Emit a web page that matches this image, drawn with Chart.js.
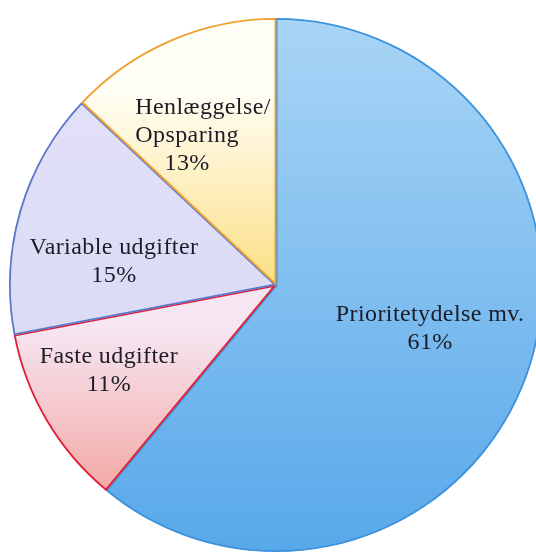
<!DOCTYPE html>
<html>
<head>
<meta charset="utf-8">
<script src="https://cdn.jsdelivr.net/npm/chart.js@4"></script>
<style>
html,body{margin:0;padding:0;background:#fff;overflow:hidden;}
#wrap{width:536px;height:553px;position:relative;overflow:hidden;}
</style>
</head>
<body>
<div id="wrap"><canvas id="c" width="544" height="553"></canvas></div>
<script>
const categories = ["Prioritetydelse mv.", "Faste udgifter", "Variable udgifter", "Henlæggelse/\nOpsparing"];
const values = [61, 11, 15, 13];
const percentLabels = ["61%", "11%", "15%", "13%"];

// styling (not data)
const gradStops = [
  ["#a9d5f6", "#58a8ea"],
  ["#f6e6f2", "#f2a29c"],
  ["#e4e2f8", "#d4d6f4"],
  ["#fffff8", "#fbdf85"]
];
const borderCols = ["#3f93dc", "#e0203a", "#5a78c8", "#f0a030"];
const labelRadial = [0.60, 0.703, 0.613, 0.621];
const labelAngleShift = [-4, 3.5, -8.1, -2.7]; // degrees

function bg(ctx) {
  const chart = ctx.chart;
  const a = chart.chartArea;
  const s = gradStops[ctx.dataIndex];
  if (!a) return s[1];
  const c = chart.ctx;
  let g;
  if (ctx.dataIndex === 3) {
    g = c.createLinearGradient(0, a.top, 0, a.top + a.height / 2);
    g.addColorStop(0, s[0]); g.addColorStop(0.25, s[0]); g.addColorStop(1, s[1]);
    return g;
  }
  if (ctx.dataIndex === 1) {
    g = c.createLinearGradient(0, a.top + a.height * 0.58, 0, a.top + a.height * 0.92);
    g.addColorStop(0, s[0]); g.addColorStop(1, s[1]);
    return g;
  }
  g = c.createLinearGradient(0, a.top, 0, a.bottom);
  g.addColorStop(0, s[0]); g.addColorStop(1, s[1]);
  return g;
}

const labelPlugin = {
  id: 'sliceLabels',
  afterDatasetsDraw(chart) {
    const meta = chart.getDatasetMeta(0);
    const ctx = chart.ctx;
    ctx.save();
    ctx.fillStyle = "#1c1c28";
    ctx.font = "24px 'Liberation Serif', 'Times New Roman', serif";
    try { ctx.letterSpacing = "0.4px"; } catch (e) {}
    ctx.textAlign = "center";
    ctx.textBaseline = "middle";
    meta.data.forEach((arc, i) => {
      const p = arc.getProps(['x','y','startAngle','endAngle','outerRadius'], true);
      const mid = (p.startAngle + p.endAngle) / 2 + labelAngleShift[i] * Math.PI / 180;
      const r = p.outerRadius * labelRadial[i];
      const cx = p.x + Math.cos(mid) * r;
      const cy = p.y + Math.sin(mid) * r;
      const lines = categories[i].split("\n").concat([percentLabels[i]]);
      const lh = 28;
      const y0 = cy - (lines.length - 1) * lh / 2;
      if (lines.length === 3) {
        const w1 = ctx.measureText(lines[0]).width;
        const w2 = ctx.measureText(lines[1]).width;
        const left = cx - w1 / 2;
        ctx.textAlign = "left";
        ctx.fillText(lines[0], left, y0);
        ctx.fillText(lines[1], left, y0 + lh);
        ctx.textAlign = "center";
        ctx.fillText(lines[2], left + w2 / 2, y0 + 2 * lh);
      } else {
        ctx.textAlign = "center";
        lines.forEach((t, k) => ctx.fillText(t, cx, y0 + k * lh));
      }
    });
    ctx.restore();
  }
};

new Chart(document.getElementById('c'), {
  type: 'pie',
  data: {
    labels: categories,
    datasets: [{
      data: values,
      backgroundColor: bg,
      borderColor: borderCols,
      borderWidth: 1.5,
      borderAlign: 'inner'
    }]
  },
  options: {
    responsive: false,
    animation: false,
    rotation: 0,
    layout: { padding: { left: 9, right: 1, top: 18, bottom: 1 } },
    plugins: { legend: { display: false }, tooltip: { enabled: false } }
  },
  plugins: [labelPlugin]
});
</script>
</body>
</html>
